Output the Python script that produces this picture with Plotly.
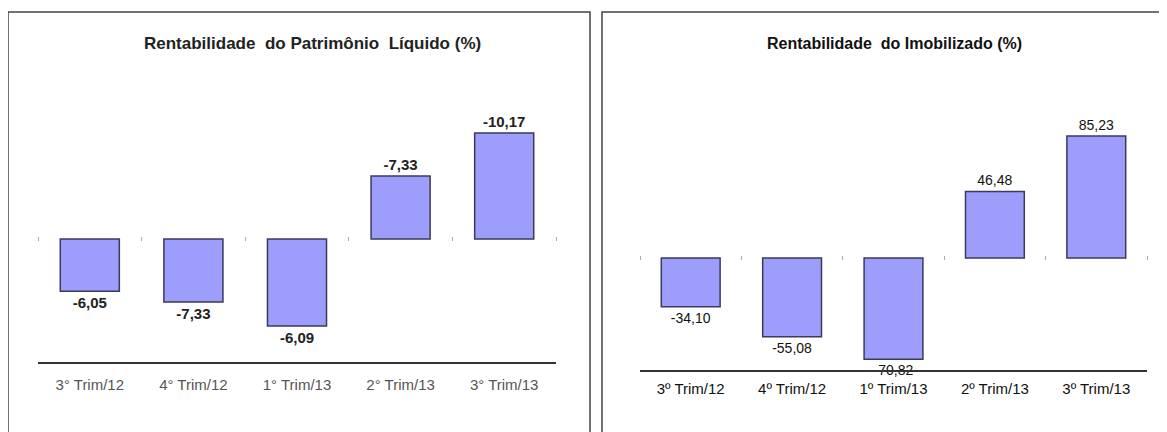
import plotly.graph_objects as go

# Rentabilidade do Patrimônio Líquido: bar heights as drawn in the source
# (its printed labels do not match the bar heights, so both are kept)
categories_pl = ["3° Trim/12", "4° Trim/12", "1° Trim/13", "2° Trim/13", "3° Trim/13"]
values_pl = [-5.0, -6.05, -8.35, 6.05, 10.17]
labels_pl = ["-6,05", "-7,33", "-6,09", "-7,33", "-10,17"]

# Rentabilidade do Imobilizado
categories_im = ["3º Trim/12", "4º Trim/12", "1º Trim/13", "2º Trim/13", "3º Trim/13"]
values_im = [-34.10, -55.08, -70.82, 46.48, 85.23]
labels_im = ["-34,10", "-55,08", "-70,82", "46,48", "85,23"]

# the page body has an 8px margin, so the figure is drawn 8px in from the corner
OFF = 8
W, H = 1167 - OFF, 432 - OFF
FONT = "Liberation Sans, Arial, sans-serif"
BAR_FILL = "#9d9dfb"
BAR_LINE = "#3a3a5c"


def px(x):
    return (x - OFF) / W


def py(y):
    return 1 - (y - OFF) / H


def zero_pos(domain, rng):
    return domain[0] + (0 - rng[0]) / (rng[1] - rng[0]) * (domain[1] - domain[0])


fig = go.Figure()

fig.add_trace(go.Bar(
    x=categories_pl, y=values_pl, text=labels_pl,
    textposition="outside", cliponaxis=False,
    textfont=dict(family=FONT, size=15, color="#222222", weight="bold"),
    marker=dict(color=BAR_FILL, line=dict(color=BAR_LINE, width=1.5)),
    width=0.57, xaxis="x", yaxis="y", hoverinfo="skip",
))
fig.add_trace(go.Bar(
    x=categories_im, y=values_im, text=labels_im,
    textposition="outside", cliponaxis=False,
    textfont=dict(family=FONT, size=14, color="#111111"),
    marker=dict(color=BAR_FILL, line=dict(color=BAR_LINE, width=1.5)),
    width=0.58, xaxis="x2", yaxis="y2", hoverinfo="skip",
))

# invisible traces so the zero-tick axes get drawn
n = len(categories_pl)
bounds = [i - 0.5 for i in range(n + 1)]
fig.add_trace(go.Scatter(x=bounds, y=[0] * len(bounds), mode="markers",
                         marker=dict(opacity=0), xaxis="x3", yaxis="y", hoverinfo="skip"))
fig.add_trace(go.Scatter(x=bounds, y=[0] * len(bounds), mode="markers",
                         marker=dict(opacity=0), xaxis="x4", yaxis="y2", hoverinfo="skip"))

dom_x1 = [px(38), px(556)]
dom_y1 = [py(362), py(100)]
rng_y1 = [-11.80, 13.34]

dom_x2 = [px(640), px(1147)]
dom_y2 = [py(370), py(100)]
rng_y2 = [-78.3, 110.4]

cat_axis = dict(type="category", showline=True, linecolor="#333333", linewidth=2,
                showgrid=False, zeroline=False, ticks="outside",
                tickcolor="rgba(0,0,0,0)", range=[-0.5, n - 0.5], fixedrange=True)

tick_axis = dict(range=[-0.5, n - 0.5], tickmode="array", tickvals=bounds,
                 ticks="outside", ticklen=4, tickcolor="#aaaaaa", tickwidth=1,
                 showticklabels=False, showline=False, showgrid=False,
                 zeroline=False, anchor="free", side="bottom")

fig.update_layout(
    width=W, height=H,
    margin=dict(l=0, r=0, t=0, b=0),
    paper_bgcolor="white", plot_bgcolor="rgba(0,0,0,0)",
    showlegend=False,
    font=dict(family=FONT),
    xaxis=dict(cat_axis, domain=dom_x1, anchor="y", ticklen=8,
               tickfont=dict(family=FONT, size=15, color="#555555")),
    yaxis=dict(domain=dom_y1, range=rng_y1, anchor="x", visible=False),
    xaxis2=dict(cat_axis, domain=dom_x2, anchor="y2", ticklen=4,
                tickfont=dict(family=FONT, size=15, color="#111111")),
    yaxis2=dict(domain=dom_y2, range=rng_y2, anchor="x2", visible=False),
    xaxis3=dict(tick_axis, overlaying="x", position=zero_pos(dom_y1, rng_y1) + 0.007),
    xaxis4=dict(tick_axis, overlaying="x2", position=zero_pos(dom_y2, rng_y2) + 0.007),
)

# panel frames
fig.add_shape(type="rect", xref="paper", yref="paper",
              x0=px(8), x1=px(590), y0=-0.1, y1=py(12),
              line=dict(color="#444444", width=1.5))
fig.add_shape(type="rect", xref="paper", yref="paper",
              x0=px(602), x1=1.05, y0=-0.1, y1=py(12),
              line=dict(color="#444444", width=1.5))

fig.add_annotation(text="<b>Rentabilidade  do Patrimônio  Líquido (%)</b>",
                   xref="paper", yref="paper", x=px(312), y=py(44),
                   xanchor="center", yanchor="middle",
                   showarrow=False, font=dict(family=FONT, size=17, color="#222222"))
fig.add_annotation(text="<b>Rentabilidade  do Imobilizado (%)</b>",
                   xref="paper", yref="paper", x=px(894), y=py(44),
                   xanchor="center", yanchor="middle",
                   showarrow=False, font=dict(family=FONT, size=16, color="#111111"))

fig.write_html("out.html")
